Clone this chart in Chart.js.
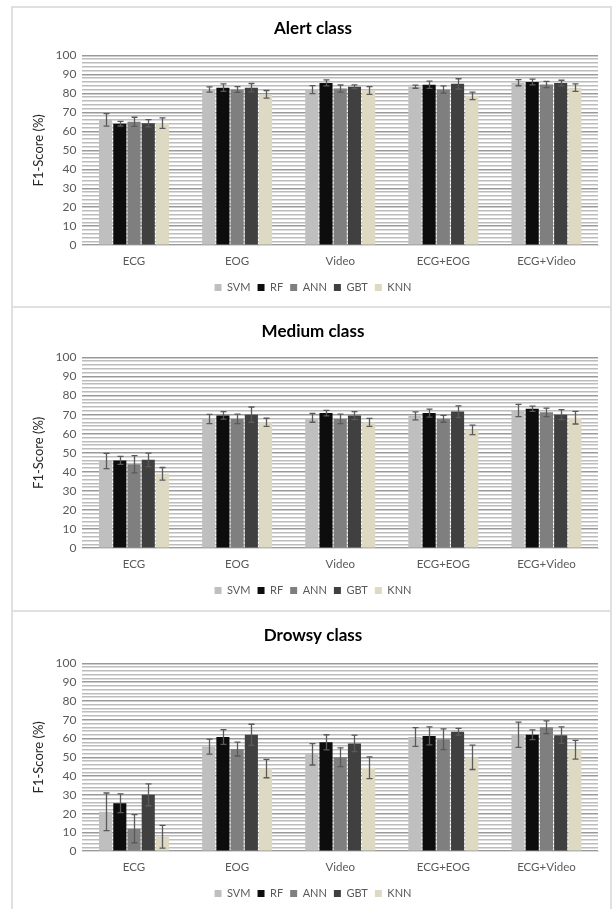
<!DOCTYPE html>
<html>
<head>
<meta charset="utf-8">
<script src="https://cdn.jsdelivr.net/npm/chart.js"></script>
<style>
  body { margin: 0; background: #fff; width: 616px; height: 909px; overflow: hidden; position: relative; }
  .panel { position: absolute; left: 11px; width: 601px; border: 2px solid #e0e0e0; background: #fff; box-sizing: border-box; }
  canvas { display: block; }
</style>
</head>
<body>
<div class="panel" style="top:6px;height:302px"><canvas id="alertChart" width="597" height="297"></canvas></div>
<div class="panel" style="top:306px;height:306px"><canvas id="mediumChart" width="597" height="300"></canvas></div>
<div class="panel" style="top:610px;height:310px"><canvas id="drowsyChart" width="597" height="299"></canvas></div>
<script>
var categories = ['ECG', 'EOG', 'Video', 'ECG+EOG', 'ECG+Video'];
var models = ['SVM', 'RF', 'ANN', 'GBT', 'KNN'];
var modelColors = ['#bfbfbf', '#0d0d0d', '#7f7f7f', '#404040', '#ddd9c3'];

// mean F1 scores, one row per model (SVM, RF, ANN, GBT, KNN)
var alertScores = [
  [66, 82, 82, 83.5, 85.6],
  [64, 83, 85.5, 84.5, 86],
  [65, 82, 82.5, 82, 84.7],
  [64.3, 83, 83.5, 85, 85.4],
  [64.3, 79.5, 81.5, 78.7, 83]
];
var alertErrors = [
  [3.3, 1.4, 2.1, 0.8, 1.6],
  [1.2, 2, 1.6, 1.9, 1.5],
  [2.4, 1.5, 1.9, 1.9, 1.6],
  [1.9, 2.2, 1, 2.7, 1.5],
  [2.8, 2, 2, 2, 2]
];

var mediumScores = [
  [45.7, 67.7, 68.3, 69.4, 72.2],
  [46, 69.6, 70.8, 70.8, 73.1],
  [44, 67.8, 67.8, 67.8, 71.2],
  [46.3, 70, 69.5, 71.6, 70],
  [39, 66, 65.9, 62, 68.4]
];
var mediumErrors = [
  [4, 2.4, 2.3, 2.1, 3.2],
  [2.1, 2, 1.4, 2.1, 1.4],
  [4.5, 2.5, 2.5, 1.8, 2.2],
  [3.5, 4, 2.1, 3, 2.6],
  [3.3, 2.1, 2.1, 2.5, 3.3]
];

var drowsyScores = [
  [21, 55.7, 51.6, 60.8, 62],
  [25.5, 60.8, 58, 61.4, 62],
  [12, 54.4, 50, 59.6, 66],
  [30, 62, 57.4, 63.6, 61.8],
  [7.7, 44, 44.4, 50, 54]
];
var drowsyErrors = [
  [10, 4, 5.7, 5, 6.7],
  [5, 3.9, 4, 4.8, 2.6],
  [7.5, 3.7, 5, 5.5, 3.4],
  [5.8, 5.6, 4.4, 1.8, 4.4],
  [6.1, 4.9, 5.8, 6.5, 5]
];

var yTicks = [0, 10, 20, 30, 40, 50, 60, 70, 80, 90, 100];

var fontFamily = 'Lato, "Open Sans", sans-serif';

// draws the +/- error bars on top of each bar
var errorBarPlugin = {
  id: 'errorBars',
  afterDatasetsDraw: function(chart) {
    var ctx = chart.ctx;
    var yScale = chart.scales.y;
    ctx.save();
    ctx.strokeStyle = '#5a5a5a';
    ctx.lineWidth = 1.3;
    chart.data.datasets.forEach(function(ds, i) {
      var meta = chart.getDatasetMeta(i);
      meta.data.forEach(function(bar, j) {
        var v = ds.data[j], e = ds.errors[j];
        var top = yScale.getPixelForValue(v + e);
        var bot = yScale.getPixelForValue(Math.max(0, v - e));
        var x = Math.round(bar.x) + 0.5;
        ctx.beginPath();
        ctx.moveTo(x, top); ctx.lineTo(x, bot);
        ctx.moveTo(x - 3, top); ctx.lineTo(x + 3, top);
        ctx.moveTo(x - 3, bot); ctx.lineTo(x + 3, bot);
        ctx.stroke();
      });
    });
    ctx.restore();
  }
};

function makeChart(id, title, scores, errors, topPad, titleGap) {
  var datasets = models.map(function(m, i) {
    return {
      label: m,
      data: scores[i],
      errors: errors[i],
      backgroundColor: modelColors[i],
      borderWidth: 0,
      barPercentage: 0.92,
      categoryPercentage: 0.69
    };
  });
  return new Chart(document.getElementById(id).getContext('2d'), {
    type: 'bar',
    data: { labels: categories, datasets: datasets },
    plugins: [errorBarPlugin],
    options: {
      responsive: false,
      animation: false,
      layout: { padding: { left: 15, right: 12, top: topPad, bottom: 2 } },
      plugins: {
        title: {
          display: true,
          text: title,
          color: '#000',
          font: { family: fontFamily, size: 17, weight: 'bold' },
          padding: { top: 6, bottom: titleGap }
        },
        legend: {
          position: 'bottom',
          labels: {
            boxWidth: 7,
            boxHeight: 7,
            color: '#595959',
            font: { family: fontFamily, size: 11 },
            padding: 7
          }
        },
        tooltip: { enabled: false }
      },
      scales: {
        x: {
          grid: { display: false },
          border: { color: '#d9d9d9', width: 1 },
          ticks: { color: '#595959', font: { family: fontFamily, size: 11.5 }, padding: 1 },
          afterFit: function(scale) { scale.height += 6; }
        },
        y: {
          min: 0,
          max: 100,
          border: { display: false },
          grid: {
            color: function(c) { return yTicks.indexOf(c.tick.value) >= 0 ? '#999999' : '#bcbcbc'; },
            lineWidth: 1.5,
            drawTicks: false
          },
          ticks: {
            stepSize: 2,
            autoSkip: false,
            padding: 6,
            color: '#595959',
            font: { family: fontFamily, size: 12 },
            callback: function(v) { return yTicks.indexOf(v) >= 0 ? v : ''; }
          },
          title: {
            display: true,
            text: 'F1-Score (%)',
            color: '#262626',
            font: { family: fontFamily, size: 13 },
            padding: { top: 3, bottom: 3 }
          }
        }
      }
    }
  });
}

makeChart('alertChart', 'Alert class', alertScores, alertErrors, 4, 17);
makeChart('mediumChart', 'Medium class', mediumScores, mediumErrors, 7, 16);
makeChart('drowsyChart', 'Drowsy class', drowsyScores, drowsyErrors, 7, 18);
</script>
</body>
</html>
